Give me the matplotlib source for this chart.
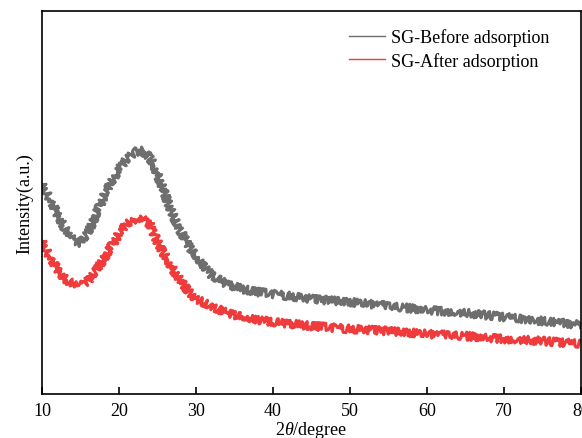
import matplotlib
matplotlib.use("Agg")
import matplotlib.pyplot as plt
from matplotlib.lines import Line2D
import numpy as np

# 2theta positions (degree) and intensity (a.u.)
two_theta = [10, 11, 12, 13, 14, 15, 16, 17, 18, 19, 20, 21, 22, 23, 24, 25, 26, 27,
             28, 29, 30, 32, 34, 36, 38, 40, 45, 50, 55, 60, 65, 70, 75, 80]
before = [210, 195, 180, 165, 154, 151, 161, 180, 197, 212, 225, 235, 242, 243, 237,
          220, 199, 179, 163, 149, 137, 119, 110, 105, 102, 100, 95, 92, 88, 84, 81,
          77, 73, 69]
after = [153, 137, 125, 115, 110, 109, 113, 123, 135, 148, 160, 170, 175, 175, 170,
         152, 138, 125, 113, 103, 95, 88, 81, 77, 74, 72, 68, 65, 63, 60, 58, 55, 53,
         50]
labels = ["SG-Before adsorption", "SG-After adsorption"]
colors = ["#6e6e6e", "#ef3b3b"]

plt.rcParams["font.family"] = ["Liberation Serif", "DejaVu Serif"]
plt.rcParams["mathtext.fontset"] = "custom"
plt.rcParams["mathtext.it"] = "Liberation Serif:italic"
plt.rcParams["mathtext.rm"] = "Liberation Serif"

fig = plt.figure(figsize=(5.82, 4.39), dpi=100)
ax = fig.add_axes([0.0722, 0.1002, 0.9258, 0.8725])

# jagged line style to mimic the detector noise of the scans
for y, c in zip([before, after], colors):
    ln, = ax.plot(two_theta, y, color=c, lw=2.2)
    ln.set_sketch_params(scale=4, length=0.3, randomness=1.5)

ax.set_xlim(10, 80)
ax.set_ylim(0, 383)
ax.set_xticks(np.arange(10, 81, 10))
ax.set_yticks([])
ax.tick_params(axis="x", direction="in", length=5, width=1.2, labelsize=13, pad=6)
for s in ax.spines.values():
    s.set_linewidth(1.2)

ax.set_xlabel("2$\\it{\\theta}$/degree", fontsize=13, labelpad=0)
ax.set_ylabel("Intensity(a.u.)", fontsize=13, labelpad=6)

handles = [Line2D([], [], color=c, lw=1) for c in colors]
ax.legend(handles, labels, loc="upper left", bbox_to_anchor=(0.54, 0.997),
          frameon=False, fontsize=13, handlelength=2.0, handletextpad=0.3,
          labelspacing=0.3)

fig.savefig("out.png", dpi=100)
